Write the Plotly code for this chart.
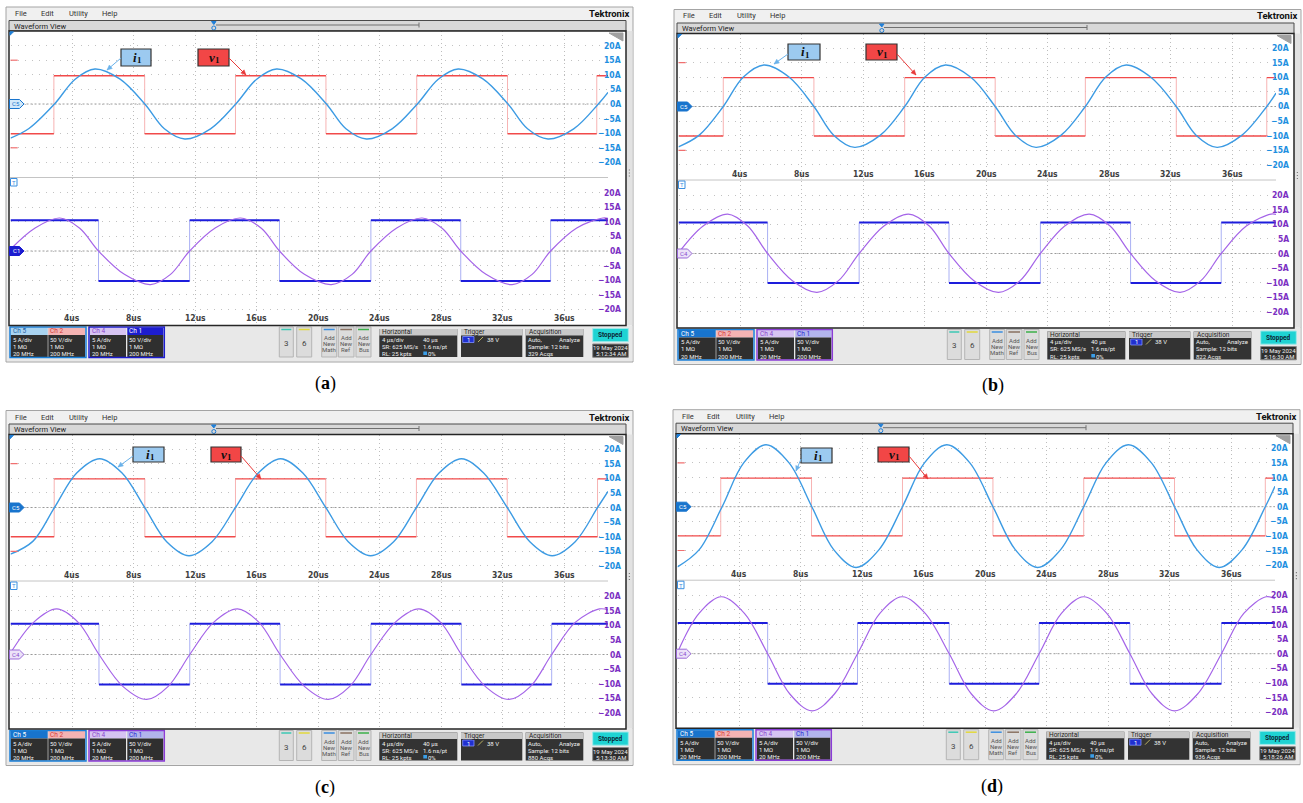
import math
import plotly.graph_objects as go

W, H = 1303, 803
TMAX = 38.83          # visible record (µs)
V_SCALE = 5 / 50      # voltage channels 50 V/div shown on the 5 A/div graticule

# ---------------- panel (a) ----------------
a_v1_edges = [2.82, 8.72, 14.62, 20.50, 26.40, 32.30, 38.10]
a_v1_hi, a_v1_lo = 97, -102
a_i1_t = [0.0, 1.2, 2.86, 4.2, 5.49, 7.1, 8.73, 10.0, 11.33, 13.0, 14.64, 16.0, 17.29, 18.9,
          20.53, 21.8, 23.13, 24.8, 26.44, 27.8, 29.09, 30.7, 32.33, 33.6, 34.93, 36.6, 38.2, 38.83]
a_i1 = [-11.7, -8.4, 0, 8.5, 12.0, 8.6, 0, -8.5, -12.0, -8.5, 0, 8.5, 12.0, 8.6,
        0, -8.5, -12.0, -8.5, 0, 8.5, 12.0, 8.6, 0, -8.5, -12.0, -8.5, 0, 4.0]
a_v2_edges = [5.72, 11.64, 17.48, 23.42, 29.26, 35.10]
a_v2_hi, a_v2_lo = 105, -103
a_i2_t = [0.0, 1.6, 3.2, 4.5, 5.72, 7.4, 9.1, 10.4, 11.64, 13.3, 14.95, 16.3, 17.48, 19.1,
          20.85, 22.2, 23.42, 25.1, 26.75, 28.05, 29.26, 30.9, 32.6, 33.9, 35.1, 36.8, 38.5, 38.83]
a_i2 = [0.6, 7.9, 11.3, 7.8, 0, -8.0, -11.5, -8.0, 0, 7.9, 11.3, 7.8, 0, -8.0,
        -11.5, -8.0, 0, 7.9, 11.3, 7.8, 0, -8.0, -11.5, -8.0, 0, 7.9, 11.3, 11.2]

# ---------------- panel (b) ----------------
b_v1_edges = [2.91, 8.80, 14.70, 20.58, 26.44, 32.35, 38.23]
b_v1_hi, b_v1_lo = 99, -101
b_i1_t = [0.0, 1.35, 2.91, 4.2, 5.56, 7.2, 8.8, 10.1, 11.45, 13.1, 14.7, 16.0, 17.35, 19.0,
          20.58, 21.9, 23.23, 24.85, 26.44, 27.75, 29.09, 30.7, 32.35, 33.65, 35.0, 36.6, 38.23, 38.83]
b_i1 = [-13.8, -9.8, 0, 10.0, 14.2, 10.0, 0, -9.9, -14.0, -9.9, 0, 10.0, 14.2, 10.0,
        0, -9.9, -14.0, -9.9, 0, 10.0, 14.2, 10.0, 0, -9.9, -14.0, -9.9, 0, 4.6]
b_v2_edges = [5.79, 11.74, 17.58, 23.52, 29.38, 35.27]
b_v2_hi, b_v2_lo = 106, -101
b_i2_t = [0.0, 1.6, 3.2, 4.5, 5.79, 7.4, 9.0, 10.4, 11.74, 13.35, 14.95, 16.3, 17.58, 19.2,
          20.8, 22.2, 23.52, 25.1, 26.7, 28.05, 29.38, 31.0, 32.6, 33.95, 35.27, 36.9, 38.5, 38.83]
b_i2 = [0.2, 9.4, 13.5, 9.4, 0, -9.3, -13.3, -9.3, 0, 9.4, 13.5, 9.4, 0, -9.3,
        -13.3, -9.3, 0, 9.4, 13.5, 9.4, 0, -9.3, -13.3, -9.3, 0, 9.4, 13.5, 13.4]

# ---------------- panel (c) ----------------
c_v1_edges = [2.84, 8.73, 14.62, 20.49, 26.38, 32.28, 38.15]
c_v1_hi, c_v1_lo = 98, -100
c_i1_t = [0.0, 1.45, 2.86, 4.3, 5.8, 7.25, 8.72, 10.15, 11.6, 13.1, 14.62, 16.1, 17.55, 19.0,
          20.49, 21.95, 23.4, 24.9, 26.38, 27.85, 29.3, 30.75, 32.28, 33.75, 35.2, 36.7, 38.15, 38.83]
c_i1 = [-16.0, -11.6, 0, 11.8, 16.7, 11.8, 0, -11.7, -16.5, -11.7, 0, 11.8, 16.7, 11.8,
        0, -11.7, -16.5, -11.7, 0, 11.8, 16.7, 11.8, 0, -11.7, -16.5, -11.7, 0, 5.5]
c_v2_edges = [5.75, 11.65, 17.52, 23.42, 29.30, 35.17]
c_v2_hi, c_v2_lo = 105, -103
c_i2_t = [0.0, 1.5, 3.0, 4.4, 5.75, 7.3, 8.85, 10.25, 11.65, 13.2, 14.75, 16.15, 17.52, 19.1,
          20.65, 22.05, 23.42, 25.0, 26.55, 27.95, 29.3, 30.85, 32.4, 33.8, 35.17, 36.7, 38.27, 38.83]
c_i2 = [0.5, 11.0, 15.6, 11.0, 0, -10.9, -15.4, -10.9, 0, 11.0, 15.6, 11.0, 0, -10.9,
        -15.4, -10.9, 0, 11.0, 15.6, 11.0, 0, -10.9, -15.4, -10.9, 0, 11.0, 15.6, 15.3]

# ---------------- panel (d) ----------------
d_v1_edges = [2.81, 8.71, 14.62, 20.50, 26.40, 32.30, 38.20]
d_v1_hi, d_v1_lo = 98, -100
d_i1_t = [0.0, 1.4, 2.9, 4.3, 5.75, 7.25, 8.73, 10.15, 11.6, 13.1, 14.62, 16.05, 17.5, 19.0,
          20.5, 21.95, 23.4, 24.9, 26.4, 27.85, 29.3, 30.8, 32.3, 33.75, 35.2, 36.7, 38.2, 38.83]
d_i1 = [-20.6, -14.8, 0, 15.0, 21.2, 15.0, 0, -14.7, -20.8, -14.7, 0, 15.0, 21.2, 15.0,
        0, -14.7, -20.8, -14.7, 0, 15.0, 21.2, 15.0, 0, -14.7, -20.8, -14.7, 0, 7.0]
d_v2_edges = [5.86, 11.70, 17.66, 23.50, 29.40, 35.35]
d_v2_hi, d_v2_lo = 105, -103
d_i2_t = [0.0, 1.4, 2.85, 4.35, 5.86, 7.3, 8.75, 10.2, 11.70, 13.15, 14.6, 16.1, 17.66, 19.1,
          20.55, 22.0, 23.50, 24.95, 26.4, 27.9, 29.40, 30.85, 32.3, 33.8, 35.35, 36.8, 38.25, 38.83]
d_i2 = [0.4, 13.8, 19.5, 13.8, 0, -13.8, -19.6, -13.8, 0, 13.8, 19.5, 13.8, 0, -13.8,
        -19.6, -13.8, 0, 13.8, 19.5, 13.8, 0, -13.8, -19.6, -13.8, 0, 13.8, 19.5, 18.8]

# scale labels
amp_ticks = [20, 15, 10, 5, 0, -5, -10, -15, -20]
time_ticks = [4, 8, 12, 16, 20, 24, 28, 32, 36]

FONT_UI = "Roboto, 'Open Sans', 'DejaVu Sans', sans-serif"
FONT_SCALE = "'Liberation Sans Narrow', 'DejaVu Sans Condensed', 'Arial Narrow', 'Liberation Sans', sans-serif"
FONT_SERIF = "'Liberation Serif', 'DejaVu Serif', serif"

panels = [
    dict(key='a', ox=0, oy=0, sel=False, time_in='bot', tag='C1', acqs='329 Acqs', clock='5:12:34 AM',
         v1=(a_v1_edges, a_v1_hi, a_v1_lo), i1=(a_i1_t, a_i1), v2=(a_v2_edges, a_v2_hi, a_v2_lo), i2=(a_i2_t, a_i2),
         ibox=(121, 49, 151, 66), itail=(121, 58), ihead=(107, 70),
         vbox=(198, 49, 229, 66), vtail=(229, 58), vhead=(246, 75)),
    dict(key='b', ox=668, oy=2.5, sel=True, time_in='top', tag='C4', acqs='822 Acqs', clock='5:16:30 AM',
         v1=(b_v1_edges, b_v1_hi, b_v1_lo), i1=(b_i1_t, b_i1), v2=(b_v2_edges, b_v2_hi, b_v2_lo), i2=(b_i2_t, b_i2),
         ibox=(788, 44, 820, 60), itail=(788, 54), ihead=(774, 64),
         vbox=(866, 44, 897, 60), vtail=(897, 54), vhead=(916, 75)),
    dict(key='c', ox=0, oy=403.5, sel=True, time_in='top', tag='C4', acqs='880 Acqs', clock='5:13:30 AM',
         v1=(c_v1_edges, c_v1_hi, c_v1_lo), i1=(c_i1_t, c_i1), v2=(c_v2_edges, c_v2_hi, c_v2_lo), i2=(c_i2_t, c_i2),
         ibox=(133, 447, 164, 462), itail=(133, 456), ihead=(118, 467),
         vbox=(211, 447, 241, 462), vtail=(241, 456), vhead=(261, 479)),
    dict(key='d', ox=667, oy=402.7, sel=True, time_in='top', tag='C4', acqs='936 Acqs', clock='5:18:26 AM',
         v1=(d_v1_edges, d_v1_hi, d_v1_lo), i1=(d_i1_t, d_i1), v2=(d_v2_edges, d_v2_hi, d_v2_lo), i2=(d_i2_t, d_i2),
         ibox=(801, 448, 832, 463), itail=(801, 459), ihead=(796, 471),
         vbox=(878, 447, 909, 462), vtail=(909, 456), vhead=(928, 479)),
]


def X(px):
    return px / W


def Y(py):
    return 1 - py / H


shapes, annotations = [], []


def rect(x0, y0, x1, y1, fill=None, line=None, lw=1, layer='below'):
    shapes.append(dict(type='rect', xref='paper', yref='paper', x0=X(x0), x1=X(x1), y0=Y(y1), y1=Y(y0),
                       fillcolor=fill if fill else 'rgba(0,0,0,0)',
                       line=dict(color=line if line else 'rgba(0,0,0,0)', width=lw if line else 0),
                       layer=layer))


def seg(x0, y0, x1, y1, color, lw=1, layer='below', dash=None):
    d = dict(color=color, width=lw)
    if dash:
        d['dash'] = dash
    shapes.append(dict(type='line', xref='paper', yref='paper', x0=X(x0), x1=X(x1), y0=Y(y0), y1=Y(y1),
                       line=d, layer=layer))


def poly(pts, fill, line=None, lw=1, layer='above'):
    path = 'M ' + ' L '.join(f'{X(x):.6f},{Y(y):.6f}' for x, y in pts) + ' Z'
    shapes.append(dict(type='path', xref='paper', yref='paper', path=path, fillcolor=fill,
                       line=dict(color=line or fill, width=lw), layer=layer))


def arrow(tail, head, col):
    seg(tail[0], tail[1], head[0], head[1], col, 1, layer='above')
    dx, dy = head[0] - tail[0], head[1] - tail[1]
    L = math.hypot(dx, dy)
    ux, uy = dx / L, dy / L
    bx, by = head[0] - ux * 5, head[1] - uy * 5
    nx, ny = -uy * 2.3, ux * 2.3
    poly([(head[0], head[1]), (bx + nx, by + ny), (bx - nx, by - ny)], col, col, 0.5)


def txt(x, y, s, size=7, color='#222', anchor='left', family=FONT_UI):
    annotations.append(dict(xref='paper', yref='paper', x=X(x), y=Y(y), text=s, showarrow=False,
                            xanchor=anchor, yanchor='middle', borderpad=0, borderwidth=0,
                            font=dict(size=size, color=color, family=family)))


def badge(x0, x1, oy, title, hfill, hcolor, lines):
    rect(x0, oy + 327.5, x1, oy + 335, fill=hfill)
    rect(x0, oy + 335, x1, oy + 357, fill='#2f2f2f')
    txt(x0 + 2, oy + 331.3, title, 6.5, hcolor)
    for i, s in enumerate(lines):
        txt(x0 + 2, oy + 339.5 + 7 * i, s, 6, '#f0f0f0')


def button(x0, x1, oy, stripe, lines):
    rect(x0, oy + 327, x1, oy + 357, fill='#dcdcdc', line='#b5b5b5')
    seg(x0 + 2, oy + 329.5, x1 - 2, oy + 329.5, stripe, 1.5)
    cx = (x0 + x1) / 2
    if len(lines) == 1:
        txt(cx, oy + 343.5, lines[0], 8, '#444', 'center')
    else:
        for i, s in enumerate(lines):
            txt(cx, oy + 337.5 + 6.2 * i, s, 6, '#555', 'center')


def infobox(x0, x1, oy, title):
    rect(x0, oy + 329, x1, oy + 357, fill='#333333')
    rect(x0, oy + 329, x1, oy + 335.5, fill='#c8c8c8')
    txt(x0 + 3, oy + 332.2, title, 6.5, '#222')


def symbol_label(box, fill, letter):
    x0, y0, x1, y1 = box
    rect(x0, y0, x1, y1, fill=fill, line='#333333', lw=1.2, layer='above')
    cx, cy = (x0 + x1) / 2, (y0 + y1) / 2
    txt(cx + 1, cy - 0.5, f'<b><i>{letter}</i></b>', 13, '#111', 'right', FONT_SERIF)
    txt(cx + 1, cy + 2.5, '<b>1</b>', 9, '#111', 'left', FONT_SERIF)


def chrome(p):
    ox, oy, sel = p['ox'], p['oy'], p['sel']
    rect(ox + 6, oy + 7, ox + 633, oy + 362, fill='#f0f0f0', line='#a4a4a4')
    for s, x in [('File', 21), ('Edit', 47), ('Utility', 78), ('Help', 109)]:
        txt(ox + x, oy + 13.5, s, 7.5, '#333', 'center')
    txt(ox + 629, oy + 13.5, '<b>Tektronix</b>', 9.5, '#111', 'right')
    rect(ox + 9, oy + 20.5, ox + 626, oy + 31, fill='#d8d8d8', line='#4a4a4a')
    txt(ox + 14, oy + 26, 'Waveform View', 7.5, '#222')
    seg(ox + 216, oy + 25, ox + 419, oy + 25, '#707070', 1)
    seg(ox + 419, oy + 22.5, ox + 419, oy + 27.5, '#707070', 1)
    poly([(ox + 211.5, oy + 21.5), (ox + 216, oy + 21.5), (ox + 213.8, oy + 24.5)], '#1f7fd8', layer='below')
    shapes.append(dict(type='circle', xref='paper', yref='paper', x0=X(ox + 211.8), x1=X(ox + 215.8),
                       y0=Y(oy + 30), y1=Y(oy + 26), line=dict(color='#1f7fd8', width=1), layer='below'))
    # waveform region
    rect(ox + 9, oy + 31, ox + 626, oy + 325, fill='white')
    rect(ox + 626, oy + 31, ox + 632.5, oy + 325, fill='#e2e2e2')
    for gy in (170, 173, 176):
        rect(ox + 628.8, oy + gy - 0.6, ox + 630, oy + gy + 0.6, fill='#808080')
    # status bar
    rect(ox + 7, oy + 325.5, ox + 632.5, oy + 361, fill='#e8e8e8')
    badge(ox + 10.7, ox + 47.7, oy, 'Ch 5', '#1874cd' if sel else '#a9d3f0', 'white' if sel else '#1f5fa0',
          ['5 A/div', '1 MΩ', '20 MHz'])
    badge(ox + 48.3, ox + 85, oy, 'Ch 2', '#f4b3b3', '#d23b3b', ['50 V/div', '1 MΩ', '200 MHz'])
    rect(ox + 10, oy + 327, ox + 86, oy + 357.5, line='#1a7fd8', lw=1.5)
    badge(ox + 90, ox + 126, oy, 'Ch 4', '#d6c4f2', '#8a45cc', ['5 A/div', '1 MΩ', '20 MHz'])
    badge(ox + 127.3, ox + 163.3, oy, 'Ch 1', '#b2b4ec' if sel else '#1d1dcf', '#2a2ad0' if sel else 'white',
          ['50 V/div', '1 MΩ', '200 MHz'])
    rect(ox + 89, oy + 327, ox + 164.3, oy + 357.5, line='#8a3cd6' if sel else '#1c1cd0', lw=1.5)
    button(ox + 279.3, ox + 293.3, oy, '#3cc8b4', ['3'])
    button(ox + 296.7, ox + 311.7, oy, '#e2d83c', ['6'])
    button(ox + 321.7, ox + 336.7, oy, '#3a8ee0', ['Add', 'New', 'Math'])
    button(ox + 338.3, ox + 354, oy, '#8a7262', ['Add', 'New', 'Ref'])
    button(ox + 356, ox + 371, oy, '#3cb04a', ['Add', 'New', 'Bus'])
    infobox(ox + 379.3, ox + 457.3, oy, 'Horizontal')
    for i, (l, r) in enumerate([('4 µs/div', '40 µs'), ('SR: 625 MS/s', '1.6 ns/pt'), ('RL: 25 kpts', '0%')]):
        txt(ox + 381.7, oy + 339.5 + 7 * i, l, 6, '#f0f0f0')
        txt(ox + 423.3 + (5 if i == 2 else 0), oy + 339.5 + 7 * i, r, 6, '#f0f0f0')
    rect(ox + 423.3, oy + 351.5, ox + 427, oy + 355, fill='#3a9ee8')
    infobox(ox + 461, ox + 522.3, oy, 'Trigger')
    rect(ox + 462.7, oy + 336.5, ox + 474, oy + 342.5, fill='#2030d0', line='#8090ff', lw=0.8)
    txt(ox + 468.3, oy + 339.5, '1', 6, 'white', 'center')
    seg(ox + 478, oy + 342, ox + 483, oy + 337, '#b8b060', 1)
    txt(ox + 486.7, oy + 339.5, '38 V', 6, '#f0f0f0')
    infobox(ox + 525.7, ox + 583.3, oy, 'Acquisition')
    txt(ox + 528.3, oy + 339.5, 'Auto,', 6, '#f0f0f0')
    txt(ox + 580, oy + 339.5, 'Analyze', 6, '#f0f0f0', 'right')
    txt(ox + 528.3, oy + 346.5, 'Sample: 12 bits', 6, '#f0f0f0')
    txt(ox + 528.3, oy + 353.5, p['acqs'], 6, '#f0f0f0')
    rect(ox + 592.7, oy + 328.5, ox + 628.3, oy + 341.7, fill='#1fd3d3', line='#a0eaea')
    txt(ox + 610.5, oy + 335.1, '<b>Stopped</b>', 6.5, '#0b2633', 'center')
    rect(ox + 592.7, oy + 344, ox + 628.3, oy + 357.3, fill='#2e2e2e', line='#8a8a8a')
    txt(ox + 610.5, oy + 347.6, '19 May 2024', 6, '#f0f0f0', 'center')
    txt(ox + 610.5, oy + 353.8, p['clock'], 6, '#f0f0f0', 'center')
    # frame and separators above the traces
    rect(ox + 9, oy + 31, ox + 626, oy + 325.5, line='#262626', lw=1.5, layer='above')
    seg(ox + 10, oy + 177.5, ox + 608, oy + 177.5, '#c4c4c4', 1, layer='above')
    # markers
    poly([(ox + 10, oy + 31.8), (ox + 13.5, oy + 31.8), (ox + 10, oy + 35.3)], '#1f7fd8')
    poly([(ox + 609, oy + 33), (ox + 623, oy + 33), (ox + 623, oy + 41)], '#a0a0a0')
    yc = oy + 104
    poly([(ox + 9.5, yc - 4.5), (ox + 19.5, yc - 4.5), (ox + 24, yc), (ox + 19.5, yc + 4.5), (ox + 9.5, yc + 4.5)],
         '#1874cd' if sel else '#d3e9fa', '#1874cd', 1)
    txt(ox + 16, yc, 'C5', 6, 'white' if sel else '#1874cd', 'center')
    yc2 = oy + 251
    if p['tag'] == 'C1':
        poly([(ox + 9.5, yc2 - 4.5), (ox + 19.5, yc2 - 4.5), (ox + 24, yc2), (ox + 19.5, yc2 + 4.5),
              (ox + 9.5, yc2 + 4.5)], '#1c1cd0', '#1c1cd0', 1)
        txt(ox + 16, yc2, 'C1', 6, 'white', 'center')
    else:
        poly([(ox + 9.5, yc2 - 4.5), (ox + 19.5, yc2 - 4.5), (ox + 24, yc2), (ox + 19.5, yc2 + 4.5),
              (ox + 9.5, yc2 + 4.5)], '#ece2f8', '#9a6ad8', 1)
        txt(ox + 16, yc2, 'C4', 6, '#8a4fd0', 'center')
    rect(ox + 10.5, oy + 178.5, ox + 17, oy + 186, fill='white', line='#3a8ee0', lw=1, layer='above')
    txt(ox + 13.75, oy + 182.3, 'T', 6, '#3a8ee0', 'center')
    # label boxes with arrows
    symbol_label(p['ibox'], '#9ccaf0', 'i')
    symbol_label(p['vbox'], '#f24646', 'v')
    arrow(p['itail'], p['ihead'], '#6ab2ea')
    arrow(p['vtail'], p['vhead'], '#e83a3a')
    txt(ox + 325, oy + 383.5, f"(<b>{p['key']}</b>)", 18, '#000', 'center', FONT_SERIF)


def square(edges, hi, lo, start_high):
    lx, ly, ex, ey = [], [], [], []
    bounds = [0.0] + list(edges) + [TMAX]
    level = hi if start_high else lo
    for i in range(len(bounds) - 1):
        lx += [bounds[i], bounds[i + 1], None]
        ly += [level * V_SCALE, level * V_SCALE, None]
        if i < len(edges):
            nxt = lo if level == hi else hi
            ex += [edges[i], edges[i], None]
            ey += [level * V_SCALE, nxt * V_SCALE, None]
            level = nxt
    return lx, ly, ex, ey


fig = go.Figure()
layout = dict(width=W, height=H, margin=dict(l=0, r=0, t=0, b=0), paper_bgcolor='white',
              plot_bgcolor='white', showlegend=False, hovermode=False)

for k, p in enumerate(panels):
    chrome(p)
    for j, part in enumerate(['top', 'bot']):
        n = 2 * k + j + 1
        xa, ya = ('xaxis', 'yaxis') if n == 1 else (f'xaxis{n}', f'yaxis{n}')
        xr, yr = ('x', 'y') if n == 1 else (f'x{n}', f'y{n}')
        y0px = p['oy'] + (31 if part == 'top' else 178)
        layout[xa] = dict(domain=[X(p['ox'] + 10.5), X(p['ox'] + 608)], range=[0, TMAX], anchor=yr,
                          showticklabels=False, ticks='', showgrid=True, gridcolor='#bdbdbd',
                          griddash='1px,3px', gridwidth=1, tick0=0, dtick=4, zeroline=False,
                          showline=False, fixedrange=True)
        layout[ya] = dict(domain=[Y(y0px + 146), Y(y0px)], range=[-25, 25], anchor=xr,
                          showticklabels=False, ticks='', showgrid=True, gridcolor='#c2c2c2',
                          griddash='1px,6px', gridwidth=1, tick0=0, dtick=5, zeroline=False,
                          showline=False, fixedrange=True)
        shapes.append(dict(type='line', xref=f'{xr} domain', yref=yr, x0=0, x1=1, y0=0, y1=0,
                           line=dict(color='#9a9a9a', width=1, dash='2px,2px'), layer='below'))
        if part == 'top':
            edges, hi, lo = p['v1']
            lx, ly, ex, ey = square(edges, hi, lo, False)
            fig.add_trace(go.Scatter(x=ex, y=ey, xaxis=xr, yaxis=yr, mode='lines',
                                     line=dict(color='#f7b3b3', width=1), hoverinfo='skip'))
            fig.add_trace(go.Scatter(x=lx, y=ly, xaxis=xr, yaxis=yr, mode='lines',
                                     line=dict(color='#f14a4a', width=1.4), hoverinfo='skip'))
            t, v = p['i1']
            fig.add_trace(go.Scatter(x=t, y=v, xaxis=xr, yaxis=yr, mode='lines',
                                     line=dict(color='#3d9be3', width=1.4, shape='spline', smoothing=1.0),
                                     hoverinfo='skip'))
            for lv in (15, -15):
                shapes.append(dict(type='line', xref=f'{xr} domain', yref=yr, x0=0, x1=0.012, y0=lv, y1=lv,
                                   line=dict(color='#f07070', width=1.2), layer='above'))
            lab_col = '#1e8fe0'
        else:
            edges, hi, lo = p['v2']
            lx, ly, ex, ey = square(edges, hi, lo, True)
            fig.add_trace(go.Scatter(x=ex, y=ey, xaxis=xr, yaxis=yr, mode='lines',
                                     line=dict(color='#aab0f4', width=1), hoverinfo='skip'))
            fig.add_trace(go.Scatter(x=lx, y=ly, xaxis=xr, yaxis=yr, mode='lines',
                                     line=dict(color='#1d1ddc', width=2), hoverinfo='skip'))
            t, v = p['i2']
            fig.add_trace(go.Scatter(x=t, y=v, xaxis=xr, yaxis=yr, mode='lines',
                                     line=dict(color='#a565e8', width=1.2, shape='spline', smoothing=1.0),
                                     hoverinfo='skip'))
            lab_col = '#7b2fc2'
        for a in amp_ticks:
            s = f'{a}A' if a >= 0 else f'−{-a}A'
            annotations.append(dict(xref=f'{xr} domain', yref=yr, x=1.0234, y=a, text=f'<b>{s}</b>',
                                    showarrow=False, xanchor='right', yanchor='middle', borderpad=0,
                                    font=dict(size=8.5, color=lab_col, family=FONT_SCALE)))
        if p['time_in'] == part:
            for tt in time_ticks:
                annotations.append(dict(xref=xr, yref=yr, x=tt, y=-23, text=f'<b>{tt}us</b>',
                                        showarrow=False, xanchor='center', yanchor='middle', borderpad=0,
                                        font=dict(size=8.5, color='#404040', family=FONT_SCALE)))

layout['shapes'] = shapes
layout['annotations'] = annotations
fig.update_layout(**layout)
fig.write_html("out.html", config={'displayModeBar': False, 'staticPlot': True},
               post_script="document.body.style.margin='0';document.body.style.overflow='hidden';")
